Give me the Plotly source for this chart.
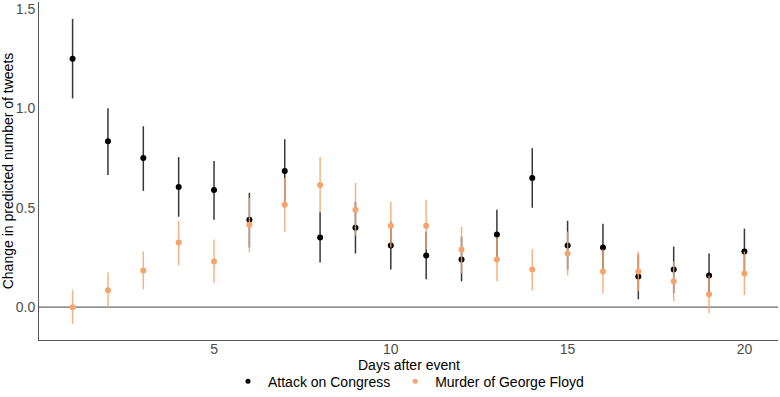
import plotly.graph_objects as go

days = list(range(1, 21))

congress_est = [1.25, 0.835, 0.75, 0.605, 0.59, 0.44, 0.685, 0.35, 0.40, 0.31,
                0.26, 0.24, 0.365, 0.65, 0.31, 0.30, 0.155, 0.19, 0.16, 0.28]
congress_lo = [1.05, 0.665, 0.585, 0.455, 0.44, 0.30, 0.52, 0.225, 0.27, 0.19,
               0.14, 0.13, 0.24, 0.50, 0.19, 0.175, 0.04, 0.07, 0.05, 0.165]
congress_hi = [1.45, 1.0, 0.91, 0.755, 0.735, 0.575, 0.845, 0.48, 0.53, 0.43,
               0.38, 0.355, 0.49, 0.80, 0.435, 0.42, 0.265, 0.305, 0.27, 0.395]

floyd_est = [0.0, 0.085, 0.185, 0.325, 0.23, 0.415, 0.515, 0.615, 0.49, 0.41,
             0.41, 0.29, 0.24, 0.19, 0.27, 0.18, 0.18, 0.13, 0.065, 0.17]
floyd_lo = [-0.085, 0.0, 0.09, 0.21, 0.12, 0.275, 0.38, 0.475, 0.36, 0.30,
            0.29, 0.17, 0.13, 0.085, 0.16, 0.07, 0.08, 0.03, -0.03, 0.06]
floyd_hi = [0.085, 0.175, 0.28, 0.435, 0.34, 0.55, 0.65, 0.755, 0.625, 0.53,
            0.54, 0.405, 0.35, 0.29, 0.38, 0.29, 0.28, 0.23, 0.16, 0.28]

series = [
    ("Attack on Congress", congress_est, congress_lo, congress_hi, "#000000", "rgba(20,20,20,0.85)"),
    ("Murder of George Floyd", floyd_est, floyd_lo, floyd_hi, "#F4A46C", "rgba(244,164,108,0.85)"),
]

fig = go.Figure()
for name, est, lo, hi, col, ecol in series:
    fig.add_trace(go.Scatter(
        x=days, y=est, mode="markers", name=name, showlegend=False,
        marker=dict(color=col, size=6),
        error_y=dict(type="data", symmetric=False,
                     array=[h - e for h, e in zip(hi, est)],
                     arrayminus=[e - l for e, l in zip(est, lo)],
                     width=0, thickness=1.5, color=ecol),
    ))
    fig.add_trace(go.Scatter(
        x=[None], y=[None], mode="markers", name=name, showlegend=True,
        marker=dict(color=col, size=5),
    ))

fig.add_hline(y=0, line=dict(color="#6b6b6b", width=1.2), layer="below")

fig.add_annotation(text="Days after event", xref="paper", yref="paper",
                   x=0.5, y=-0.074, yanchor="middle", showarrow=False,
                   font=dict(size=14, color="#000"))

fig.update_layout(
    width=780, height=397,
    margin=dict(l=39, r=2, t=2, b=57, autoexpand=False),
    paper_bgcolor="white", plot_bgcolor="white",
    font=dict(family="Liberation Sans, Arial, sans-serif", size=14, color="#000"),
    legend=dict(orientation="h", x=0.5, xanchor="center", y=-0.123, yanchor="middle",
                font=dict(size=14, color="#000"), itemwidth=30,
                tracegroupgap=0, bgcolor="rgba(0,0,0,0)"),
    showlegend=True,
)
fig.update_xaxes(
    range=[0.05, 20.95], tickvals=[5, 10, 15, 20], ticktext=["5", "10", "15", "20"],
    showgrid=False, zeroline=False, showline=True, linecolor="#555", linewidth=1,
    ticks="", tickfont=dict(size=14, color="#4D4D4D"), ticklabelstandoff=-4,
)
fig.update_yaxes(
    range=[-0.165, 1.535], tickvals=[0.0, 0.5, 1.0, 1.5], ticktext=["0.0", "0.5", "1.0", "1.5"],
    showgrid=False, zeroline=False, showline=True, linecolor="#555", linewidth=1,
    ticks="", tickfont=dict(size=14, color="#4D4D4D"),
    title=dict(text="Change in predicted number of tweets", font=dict(size=14, color="#000"), standoff=4),
)

fig.write_html("out.html", config={"displayModeBar": False},
               post_script="document.body.style.margin='0';")
